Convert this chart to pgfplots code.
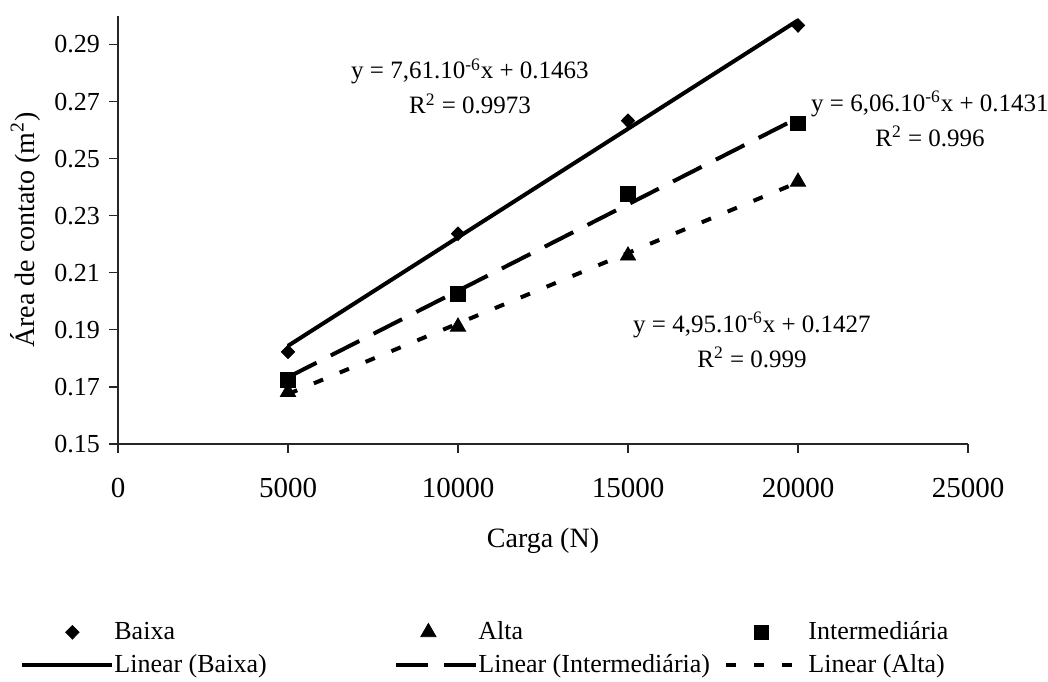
\documentclass[border=0pt]{standalone}
\usepackage{pgfplots}
\pgfplotsset{compat=1.18}
\usepackage{fontspec}
\setmainfont{Liberation Serif}
\pgfplotsset{
  legmark/.style={legend image code/.code={\draw[##1] plot coordinates {(#1,0pt)}; \path (0pt,0pt) (40pt,0pt);}},
  legline/.style={legend image code/.code={\draw[##1] (0pt,0pt) -- (#1,0pt); \path (0pt,0pt) (40pt,0pt);}},
}
\begin{document}
\begin{tikzpicture}
\useasboundingbox (-59pt,-118.5pt) rectangle (465pt,222pt);
\begin{axis}[
  at={(0,0)}, anchor=south west,
  scale only axis, width=425pt, height=214pt,
  xmin=0, xmax=25000, ymin=0.15, ymax=0.30,
  axis lines=left,
  axis line style={-, line width=0.6pt, black!85},
  clip=false,
  xtick={0,5000,10000,15000,20000,25000},
  ytick={0.15,0.17,0.19,0.21,0.23,0.25,0.27,0.29},
  tick align=outside, major tick length=4.5pt,
  tick style={black!85, line width=0.6pt},
  scaled x ticks=false, scaled y ticks=false,
  /pgf/number format/assume math mode=true,
  xticklabel style={font=\fontsize{14.5}{17}\selectfont, yshift=-9pt, /pgf/number format/fixed, /pgf/number format/1000 sep={}},
  yticklabel style={font=\fontsize{13}{15}\selectfont, xshift=-1pt, /pgf/number format/fixed, /pgf/number format/precision=2, /pgf/number format/fixed zerofill},
  xlabel={Carga (N)},
  ylabel={Área de contato (m\textsuperscript{2})},
  xlabel style={font=\fontsize{14}{16}\selectfont, at={(axis description cs:0.5,-0.2250)}, anchor=center},
  ylabel style={font=\fontsize{14}{16}\selectfont, at={(axis description cs:-0.1094,0.5)}, anchor=center},
  legend columns=3,
  legend cell align=left,
  legend style={draw=none, fill=none, at={(-0.1153,-0.405)}, anchor=north west, inner sep=0pt,
    column sep=0pt, row sep=2pt, font=\fontsize{13}{15}\selectfont, nodes={inner xsep=0pt}},
]
% data points
\addplot[only marks, mark=diamond*, mark size=3.4pt, mark options={xscale=1.3}, black, legmark=25pt]
  coordinates {(5000,0.1823) (10000,0.2237) (15000,0.2633) (20000,0.2967)};
\addlegendentry{\makebox[140pt][l]{Baixa}}
\addplot[only marks, mark=triangle*, mark size=4.4pt, black, legmark=16pt]
  coordinates {(5000,0.1682) (10000,0.1911) (15000,0.2160) (20000,0.2419)};
\addlegendentry{\makebox[123pt][l]{Alta}}
\addplot[only marks, mark=square*, mark size=3.6pt, black, legmark=17.5pt]
  coordinates {(5000,0.1725) (10000,0.2026) (15000,0.2377) (20000,0.2623)};
\addlegendentry{Intermediária}
% trend lines
\addplot[no marks, black, line width=2pt, legline=45pt]
  coordinates {(5000,0.1844) (20000,0.2985)};
\addlegendentry{\makebox[140pt][l]{Linear (Baixa)}}
\addplot[no marks, black, line width=2pt, dash pattern=on 16pt off 8pt, legline=40pt]
  coordinates {(5000,0.1734) (20000,0.2643)};
\addlegendentry{\makebox[123pt][l]{Linear (Intermediária)}}
\addplot[no marks, black, line width=2pt, dash pattern=on 5pt off 9pt, legline=33pt]
  coordinates {(5000,0.1675) (20000,0.2417)};
\addlegendentry{Linear (Alta)}
% equations
\node[align=center, font=\fontsize{12.5}{17.5}\selectfont] at (axis cs:10353,0.2753)
  {y = 7,61.10\textsuperscript{-6}x + 0.1463\\R\textsuperscript{2} = 0.9973};
\node[align=center, font=\fontsize{12.5}{17.5}\selectfont] at (axis cs:23882,0.2640)
  {y = 6,06.10\textsuperscript{-6}x + 0.1431\\R\textsuperscript{2} = 0.996};
\node[align=center, font=\fontsize{12.5}{17.5}\selectfont] at (axis cs:18647,0.1865)
  {y = 4,95.10\textsuperscript{-6}x + 0.1427\\R\textsuperscript{2} = 0.999};
\end{axis}
\end{tikzpicture}
\end{document}
